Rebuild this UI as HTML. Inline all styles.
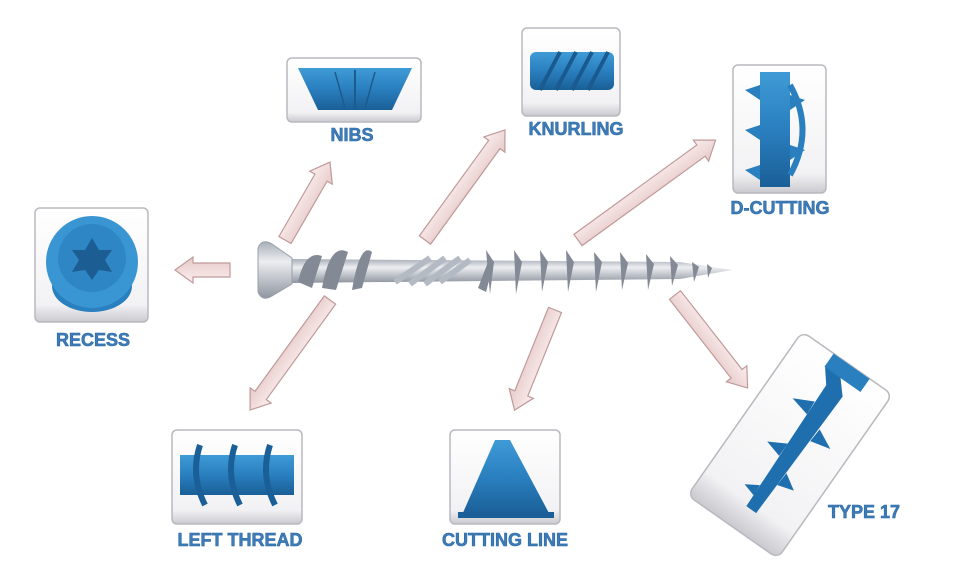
<!DOCTYPE html>
<html><head><meta charset="utf-8"><style>
html,body{margin:0;padding:0;background:#fff;}
svg{display:block}
.lb{font-family:"Liberation Sans",Arial,sans-serif;font-weight:bold;font-size:18px;fill:#3d7cb8;stroke:#2f6aa3;stroke-width:0.6;text-anchor:middle;}
</style></head><body>
<svg width="960" height="567" viewBox="0 0 960 567" xmlns="http://www.w3.org/2000/svg">
<defs>
<linearGradient id="box" x1="0" y1="0" x2="0" y2="1">
<stop offset="0" stop-color="#ffffff"/><stop offset="0.85" stop-color="#f2f2f4"/><stop offset="1" stop-color="#c9c9cf"/>
</linearGradient>
<linearGradient id="arr" x1="0" y1="0" x2="0" y2="1">
<stop offset="0" stop-color="#fbeeee"/><stop offset="1" stop-color="#e6c9c9"/>
</linearGradient>
<linearGradient id="sh" x1="0" y1="0" x2="0" y2="1">
<stop offset="0" stop-color="#a8aeb8"/><stop offset="0.35" stop-color="#eceef1"/><stop offset="1" stop-color="#8f95a0"/>
</linearGradient>
<linearGradient id="bl" x1="0" y1="0" x2="0" y2="1">
<stop offset="0" stop-color="#3f9bd6"/><stop offset="0.5" stop-color="#2a7fbf"/><stop offset="1" stop-color="#1a5f97"/>
</linearGradient>
</defs>

<g stroke="#b8b8bf" stroke-width="1.5" fill="url(#box)">
<rect x="287" y="58" width="134" height="64" rx="5"/>
<rect x="522" y="28" width="98" height="88" rx="5"/>
<rect x="733" y="65" width="93" height="128" rx="5"/>
<rect x="35" y="208" width="113" height="114" rx="5"/>
<rect x="172" y="430" width="130" height="94" rx="5"/>
<rect x="450" y="430" width="110" height="94" rx="5"/>
<rect x="-55" y="-100" width="110" height="200" rx="8" transform="translate(790,445) rotate(35)"/>
</g>

<polygon points="298,68 412,68 392,110 318,110" fill="url(#bl)"/>
<line x1="355" y1="70" x2="355" y2="108" stroke="#1d5a8e" stroke-width="2"/>
<line x1="335" y1="72" x2="345" y2="108" stroke="#1d5a8e" stroke-width="1.5"/>
<line x1="375" y1="72" x2="365" y2="108" stroke="#1d5a8e" stroke-width="1.5"/>
<rect x="530" y="52" width="84" height="38" rx="6" fill="url(#bl)"/>
<g stroke="#1b5a8f" stroke-width="4" fill="none">
<path d="M540 90 L560 52 M556 90 L576 52 M572 90 L592 52 M588 90 L608 52"/>
</g>
<rect x="760" y="72" width="30" height="115" fill="url(#bl)"/>
<path d="M790 85 Q815 130 790 175" stroke="#2a7fbf" stroke-width="6" fill="none"/>
<g fill="#2a7fbf"><polygon points="745,90 760,85 760,100"/><polygon points="745,130 760,125 760,140"/><polygon points="745,170 760,165 760,180"/><polygon points="805,100 790,95 790,110"/><polygon points="805,150 790,145 790,160"/></g>
<ellipse cx="92" cy="286" rx="40" ry="26" fill="#2a7fbf"/>
<circle cx="92" cy="262" r="46" fill="#3a96d3"/>
<circle cx="92" cy="258" r="34" fill="#2f86c5"/>
<polygon points="92,238 99,250 112,250 105,260 112,272 99,270 92,280 85,270 72,272 79,260 72,250 85,250" fill="#1c5e93"/>
<rect x="180" y="455" width="114" height="40" fill="url(#bl)"/>
<g fill="none" stroke="#1a5f97" stroke-width="6"><path d="M200 445 Q190 475 205 505 M235 445 Q225 475 240 505 M270 445 Q260 475 275 505"/></g>
<polygon points="462,515 495,440 510,440 550,515" fill="url(#bl)"/>
<rect x="458" y="512" width="96" height="6" fill="#1a5f97"/>
<g transform="translate(800,440) rotate(35)">
<polygon points="-12,-85 12,-85 22,-75 -22,-75 -10,-60 -6,85 6,85 10,-60" fill="#1f6fae"/>
<rect x="-22" y="-90" width="44" height="16" fill="#2a7fbf"/>
<g fill="#1f6fae"><polygon points="-10,-40 -30,-30 -9,-25"/><polygon points="10,-20 30,-10 9,-5"/><polygon points="-8,10 -26,20 -8,25"/><polygon points="8,35 24,45 7,50"/><polygon points="-7,60 -20,68 -6,72"/></g>
</g>

<text x="352" y="141" class="lb">NIBS</text>
<text x="576" y="135" class="lb">KNURLING</text>
<text x="780" y="214" class="lb">D-CUTTING</text>
<text x="93" y="346" class="lb">RECESS</text>
<text x="240" y="546" class="lb">LEFT THREAD</text>
<text x="505" y="546" class="lb">CUTTING LINE</text>
<text x="864" y="518" class="lb">TYPE 17</text>

<g fill="url(#arr)" stroke="#c09a9a" stroke-width="1.2">
<g transform="translate(230,270) rotate(180)"><polygon points="0,-7 37,-7 37,-13 55,0 37,13 37,7 0,7"/></g>
<g transform="translate(285,240) rotate(-60)"><polygon points="0,-7 72,-7 72,-13 90,0 72,13 72,7 0,7"/></g>
<g transform="translate(425,240) rotate(-54)"><polygon points="0,-7 118,-7 118,-13 136,0 118,13 118,7 0,7"/></g>
<g transform="translate(578,240) rotate(-36)"><polygon points="0,-7 152,-7 152,-13 170,0 152,13 152,7 0,7"/></g>
<g transform="translate(330,300) rotate(126)"><polygon points="0,-7 118,-7 118,-13 136,0 118,13 118,7 0,7"/></g>
<g transform="translate(555,310) rotate(112)"><polygon points="0,-7 90,-7 90,-13 108,0 90,13 90,7 0,7"/></g>
<g transform="translate(675,295) rotate(52)"><polygon points="0,-7 100,-7 100,-13 118,0 100,13 100,7 0,7"/></g>
</g>

<polygon points="290,259 680,262 732,270 680,279 290,283" fill="url(#sh)"/>
<path d="M258 248 Q262 238 272 244 L292 258 L292 284 L272 296 Q262 302 258 292 Z" fill="url(#sh)" stroke="#9aa0aa"/>
<g fill="#848a95">
<path d="M298 282 Q305 250 322 256 L312 288 Z"/>
<path d="M322 288 Q330 242 348 252 L336 290 Z"/>
<path d="M352 290 Q360 242 372 252 L362 288 Z"/>
<path d="M478 288 L488 262 L494 262 L486 292 Z"/>
<path d="M490 294 L486 250 L494 262 Z"/>
<path d="M516 294 L514 250 L522 262 Z"/>
<path d="M542 292 L540 250 L548 262 Z"/>
<path d="M568 292 L566 250 L574 262 Z"/>
<path d="M596 292 L594 252 L602 262 Z"/>
<path d="M622 290 L620 252 L628 263 Z"/>
<path d="M648 290 L646 254 L654 264 Z"/>
<path d="M672 286 L670 256 L678 265 Z"/>
<path d="M694 282 L692 262 L699 267 Z"/>
<path d="M708 278 L707 264 L712 268 Z"/>
</g>
<g fill="none" stroke="#b4bac3" stroke-width="6">
<path d="M395 282 L430 258 M410 284 L445 258 M425 284 L460 258 M440 282 L470 260"/>
</g>
</svg>
</body></html>
